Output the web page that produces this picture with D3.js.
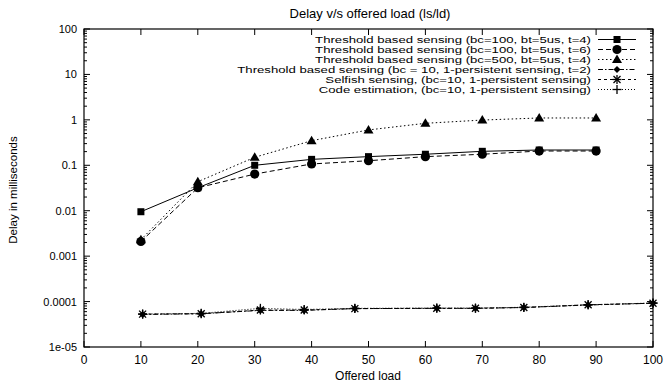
<!DOCTYPE html>
<html>
<head>
<meta charset="utf-8">
<script src="https://cdn.jsdelivr.net/npm/d3@7"></script>
<style>
  body { margin: 0; background: #fff; }
  text { font-family: "Liberation Sans", Arial, sans-serif; fill: #000; }
</style>
</head>
<body>
<svg id="chart" width="664" height="385"></svg>
<script>
// offered load values
var loadHigh = [10, 20, 30, 40, 50, 60, 70, 80, 90];
var loadLow = [10.3, 20.6, 31, 38.7, 47.6, 62, 68.8, 77.3, 88.6, 100];

// delay in milliseconds
var thr100t4 = [0.0095, 0.032, 0.1, 0.135, 0.155, 0.175, 0.203, 0.217, 0.217];
var thr100t6 = [0.0021, 0.032, 0.064, 0.107, 0.126, 0.155, 0.175, 0.206, 0.206];
var thr500t4 = [0.0023, 0.0435, 0.15, 0.348, 0.6, 0.84, 0.99, 1.1, 1.1];
var thr10 = [5.2e-5, 5.4e-5, 6.4e-5, 6.4e-5, 7.0e-5, 7.1e-5, 7.1e-5, 7.4e-5, 8.4e-5, 9.2e-5];
var selfish = [5.3e-5, 5.4e-5, 6.5e-5, 6.5e-5, 7.0e-5, 7.1e-5, 7.1e-5, 7.4e-5, 8.5e-5, 9.2e-5];
var codeEst = [5.3e-5, 5.5e-5, 7.1e-5, 6.7e-5, 7.1e-5, 7.2e-5, 7.2e-5, 7.5e-5, 8.5e-5, 9.3e-5];

var legendNames = [
  "Threshold based sensing (bc=100, bt=5us, t=4)",
  "Threshold based sensing (bc=100, bt=5us, t=6)",
  "Threshold based sensing (bc=500, bt=5us, t=4)",
  "Threshold based sensing (bc = 10, 1-persistent sensing, t=2)",
  "Selfish sensing, (bc=10, 1-persistent sensing)",
  "Code estimation, (bc=10, 1-persistent sensing)"
];
var xTicks = [0, 10, 20, 30, 40, 50, 60, 70, 80, 90, 100];
var yTicks = [1e-5, 1e-4, 1e-3, 0.01, 0.1, 1, 10, 100];
var yTickLabels = ["1e-05", "0.0001", "0.001", "0.01", "0.1", "1", "10", "100"];

var series = [
  { xs: loadHigh, ys: thr100t4, dash: null, mark: "square" },
  { xs: loadHigh, ys: thr100t6, dash: "5,3", mark: "circle" },
  { xs: loadHigh, ys: thr500t4, dash: "1.5,2.5", mark: "triangle" },
  { xs: loadLow, ys: thr10, dash: "5,2,1.5,2", mark: "diamond" },
  { xs: loadLow, ys: selfish, dash: "3,3", mark: "star" },
  { xs: loadLow, ys: codeEst, dash: "1,2", mark: "plus" }
];

var svg = d3.select("#chart");
var pLeft = 84, pRight = 653, pTop = 29, pBottom = 347;

var x = d3.scaleLinear().domain([0, 100]).range([pLeft, pRight]);
var y = d3.scaleLog().domain([1e-5, 100]).range([pBottom, pTop]);

// ticks (gnuplot style, inward, mirrored)
var tickG = svg.append("g").attr("stroke", "#000").attr("stroke-width", 1);
xTicks.forEach(function (t) {
  tickG.append("line").attr("x1", x(t)).attr("x2", x(t)).attr("y1", pBottom).attr("y2", pBottom - 6);
  tickG.append("line").attr("x1", x(t)).attr("x2", x(t)).attr("y1", pTop).attr("y2", pTop + 6);
});
for (var e = -5; e < 2; e++) {
  for (var m = 1; m < 10; m++) {
    var v = m * Math.pow(10, e);
    var len = m == 1 ? 6 : 3;
    tickG.append("line").attr("x1", pLeft).attr("x2", pLeft + len).attr("y1", y(v)).attr("y2", y(v));
    tickG.append("line").attr("x1", pRight).attr("x2", pRight - len).attr("y1", y(v)).attr("y2", y(v));
  }
}
tickG.append("line").attr("x1", pLeft).attr("x2", pLeft + 6).attr("y1", y(100)).attr("y2", y(100));
tickG.append("line").attr("x1", pRight).attr("x2", pRight - 6).attr("y1", y(100)).attr("y2", y(100));

svg.append("rect")
  .attr("x", pLeft).attr("y", pTop)
  .attr("width", pRight - pLeft).attr("height", pBottom - pTop)
  .attr("fill", "none").attr("stroke", "#000").attr("stroke-width", 1.2);

// tick labels
svg.selectAll(".xl").data(xTicks).enter().append("text")
  .attr("x", function (d) { return x(d); }).attr("y", 364)
  .attr("text-anchor", "middle").attr("font-size", 12)
  .text(function (d) { return d; });
svg.selectAll(".yl").data(yTicks).enter().append("text")
  .attr("x", 77).attr("y", function (d) { return y(d) + 4; })
  .attr("text-anchor", "end").attr("font-size", 11)
  .text(function (d, i) { return yTickLabels[i]; });

svg.append("text").attr("x", 370).attr("y", 18).attr("text-anchor", "middle")
  .attr("font-size", 13).text("Delay v/s offered load (ls/ld)");
svg.append("text").attr("x", 368).attr("y", 380).attr("text-anchor", "middle")
  .attr("font-size", 12).text("Offered load");
svg.append("text").attr("transform", "translate(17,190) rotate(-90)")
  .attr("text-anchor", "middle").attr("font-size", 11.5).text("Delay in milliseconds");

function drawMark(g, type, cx, cy) {
  if (type == "square") {
    g.append("rect").attr("x", cx - 3.5).attr("y", cy - 3.5).attr("width", 7).attr("height", 7).attr("fill", "#000");
  } else if (type == "circle") {
    g.append("circle").attr("cx", cx).attr("cy", cy).attr("r", 4.6).attr("fill", "#000");
  } else if (type == "triangle") {
    g.append("path").attr("d", "M" + cx + "," + (cy - 5) + "L" + (cx + 5) + "," + (cy + 3.5) + "L" + (cx - 5) + "," + (cy + 3.5) + "Z").attr("fill", "#000");
  } else if (type == "diamond") {
    g.append("path").attr("d", "M" + cx + "," + (cy - 3.5) + "L" + (cx + 3.5) + "," + cy + "L" + cx + "," + (cy + 3.5) + "L" + (cx - 3.5) + "," + cy + "Z").attr("fill", "#000");
  } else if (type == "star") {
    var s = g.append("g").attr("stroke", "#000").attr("stroke-width", 1.3);
    s.append("line").attr("x1", cx - 4.5).attr("x2", cx + 4.5).attr("y1", cy).attr("y2", cy);
    s.append("line").attr("x1", cx).attr("x2", cx).attr("y1", cy - 4.5).attr("y2", cy + 4.5);
    s.append("line").attr("x1", cx - 3.5).attr("x2", cx + 3.5).attr("y1", cy - 3.5).attr("y2", cy + 3.5);
    s.append("line").attr("x1", cx - 3.5).attr("x2", cx + 3.5).attr("y1", cy + 3.5).attr("y2", cy - 3.5);
  } else if (type == "plus") {
    var p = g.append("g").attr("stroke", "#000").attr("stroke-width", 1.3);
    p.append("line").attr("x1", cx - 4.5).attr("x2", cx + 4.5).attr("y1", cy).attr("y2", cy);
    p.append("line").attr("x1", cx).attr("x2", cx).attr("y1", cy - 4.5).attr("y2", cy + 4.5);
  }
}

var line = d3.line()
  .x(function (d) { return x(d[0]); })
  .y(function (d) { return y(d[1]); });

var plot = svg.append("g");
series.slice().reverse().forEach(function (s) {
  var pts = s.xs.map(function (v, i) { return [v, s.ys[i]]; });
  plot.append("path").datum(pts).attr("d", line)
    .attr("fill", "none").attr("stroke", "#000").attr("stroke-width", 1)
    .attr("stroke-dasharray", s.dash);
  pts.forEach(function (p) { drawMark(plot, s.mark, x(p[0]), y(p[1])); });
});

// legend (text stretched horizontally like the reference)
var legend = svg.append("g");
series.forEach(function (s, i) {
  var ly = 39.5 + i * 10;
  legend.append("text")
    .attr("transform", "translate(591," + (ly + 3.4) + ") scale(1.43,1)")
    .attr("text-anchor", "end").attr("font-size", 9.2).text(legendNames[i]);
  legend.append("line").attr("x1", 598).attr("x2", 636).attr("y1", ly).attr("y2", ly)
    .attr("stroke", "#000").attr("stroke-width", 1).attr("stroke-dasharray", s.dash);
  drawMark(legend, s.mark, 617, ly);
});
</script>
</body>
</html>
